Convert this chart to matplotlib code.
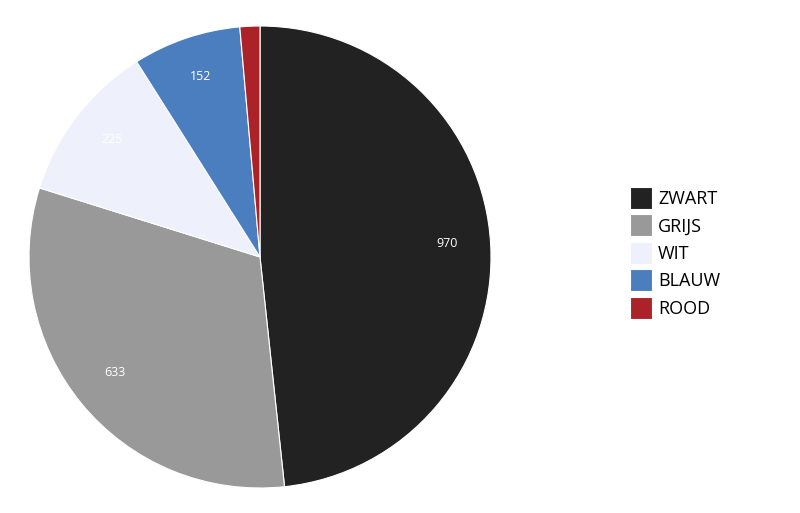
import matplotlib.pyplot as plt

labels = ["ZWART", "GRIJS", "WIT", "BLAUW", "ROOD"]
values = [970, 633, 225, 152, 28]
colors = ["#222222", "#999999", "#eef0fc", "#4a7ebf", "#ab2228"]

plt.rcParams['font.family'] = ['Open Sans', 'DejaVu Sans']

fig = plt.figure(figsize=(8, 5.13), dpi=100)
ax = fig.add_axes([29 / 800, (513 - 257 - 231) / 513, 462 / 800, 462 / 513])

def fmt(pct):
    v = round(pct * sum(values) / 100)
    return str(v) if v > 100 else ""

wedges, texts, autotexts = ax.pie(values, colors=colors, startangle=90, counterclock=False,
                                  autopct=fmt, pctdistance=0.81,
                                  wedgeprops=dict(edgecolor="white", linewidth=0.8),
                                  textprops=dict(color="white", fontsize=9))
for t in autotexts:
    x, y = t.get_position()
    t.set_position((x, y + 0.015))
ax.set_xlim(-1, 1)
ax.set_ylim(-1, 1)
ax.set_aspect("equal")

fig.legend(wedges, labels, loc="upper left", bbox_to_anchor=(630 / 800, 1 - 187 / 513),
           frameon=False, fontsize=13, handlelength=1.2, handleheight=1.5,
           labelspacing=0.3, handletextpad=0.35, borderpad=0, borderaxespad=0)

plt.savefig("out.png")
